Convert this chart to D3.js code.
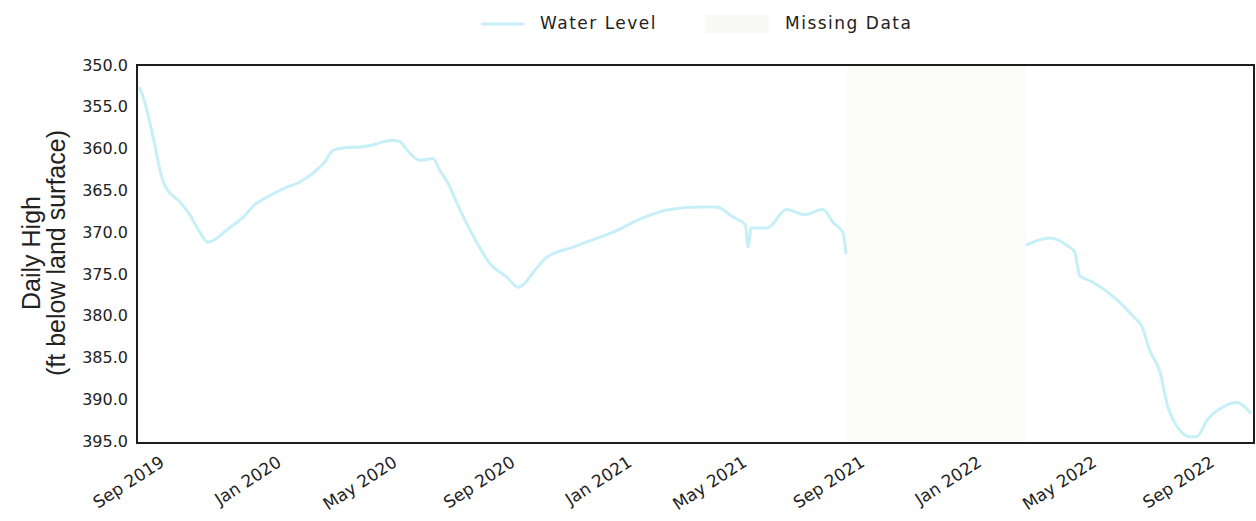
<!DOCTYPE html>
<html>
<head>
<meta charset="utf-8">
<script src="https://cdn.jsdelivr.net/npm/d3@7"></script>
<style>
  html, body { margin: 0; padding: 0; background: #ffffff; }
  svg { display: block; }
</style>
</head>
<body>
<svg id="chart" width="1256" height="521"></svg>
<script>
// ---- data ----
const dates = [
  "2019-08-14","2019-08-19","2019-08-25","2019-08-30","2019-09-04","2019-09-09","2019-09-25","2019-10-05",
  "2019-10-14","2019-10-24","2019-10-31","2019-11-13","2019-11-30","2019-12-12","2019-12-25","2020-01-15",
  "2020-01-28","2020-02-11","2020-02-23","2020-03-03","2020-03-15","2020-03-31","2020-04-12","2020-04-24",
  "2020-05-04","2020-05-12","2020-05-19","2020-06-01","2020-06-15","2020-06-22","2020-06-30","2020-07-13",
  "2020-07-31","2020-08-13","2020-08-31","2020-09-12","2020-09-19","2020-09-27","2020-10-12","2020-11-08",
  "2020-11-29","2020-12-20","2021-01-20","2021-02-17","2021-03-21","2021-04-07","2021-04-24","2021-05-07",
  "2021-05-10","2021-05-13","2021-05-30","2021-06-19","2021-07-08","2021-07-27","2021-08-07","2021-08-17",
  "2021-08-20","2021-11-15","2022-02-25","2022-03-11","2022-03-21","2022-04-08","2022-04-16","2022-04-18",
  "2022-04-21","2022-05-05","2022-05-30","2022-06-16","2022-06-25","2022-07-03","2022-07-14","2022-07-22",
  "2022-08-01","2022-08-14","2022-08-21","2022-09-01","2022-09-18","2022-10-02","2022-10-16"
];
const levels = [
  352.8,354.4,357.2,359.8,362.6,364.4,366.4,367.9,
  369.7,371.2,370.9,369.7,368.2,366.7,365.8,364.6,
  364.0,362.9,361.6,360.2,359.9,359.8,359.6,359.2,
  359.0,359.2,360.2,361.4,361.2,362.6,364.0,367.3,
  371.3,373.7,375.4,376.6,376.1,374.9,373.0,371.8,
  370.9,370.0,368.3,367.3,367.0,367.0,368.2,369.1,
  371.8,369.5,369.5,367.3,367.9,367.3,368.9,370.1,
  372.5,null,371.5,370.9,370.7,371.6,372.4,373.6,
  375.2,376.0,378.1,380.1,381.3,384.1,386.8,390.9,
  393.3,394.5,394.5,392.5,390.9,390.4,391.6
];
const missingStart = "2021-08-21";
const missingEnd = "2022-02-24";
const xDomain = ["2019-08-11", "2022-10-20"];
const xTicks = ["2019-09-01","2020-01-01","2020-05-01","2020-09-01","2021-01-01","2021-05-01","2021-09-01","2022-01-01","2022-05-01","2022-09-01"];
const yTicks = [350,355,360,365,370,375,380,385,390,395];
const legendLabels = ["Water Level", "Missing Data"];
const yTitle = ["Daily High", "(ft below land surface)"];

// ---- layout ----
const parse = d3.timeParse("%Y-%m-%d");
const fmtX = d3.timeFormat("%b %Y");
const pL = 137, pR = 1254, pT = 65, pB = 443;

const svg = d3.select("#chart");
const x = d3.scaleTime().domain(xDomain.map(parse)).range([pL, pR]);
const y = d3.scaleLinear().domain([350, 395]).range([pT, pB - 2]);

const data = dates.map((d, i) => ({ date: parse(d), v: levels[i] }));

// missing data band (very faint in the reference)
svg.append("rect")
  .attr("x", x(parse(missingStart)))
  .attr("y", pT)
  .attr("width", x(parse(missingEnd)) - x(parse(missingStart)))
  .attr("height", pB - pT)
  .attr("fill", "#fbfbf8");

// line
const line = d3.line()
  .defined(d => d.v != null)
  .x(d => x(d.date))
  .y(d => y(d.v))
  .curve(d3.curveMonotoneX);

svg.append("path")
  .datum(data)
  .attr("d", line)
  .attr("fill", "none")
  .attr("stroke", "#c6eff8")
  .attr("stroke-width", 3)
  .attr("stroke-linejoin", "round")
  .attr("stroke-linecap", "round");

// frame
svg.append("rect")
  .attr("x", pL).attr("y", pT)
  .attr("width", pR - pL).attr("height", pB - pT)
  .attr("fill", "none")
  .attr("stroke", "#1e1e1e")
  .attr("stroke-width", 2);

// y axis
const yAxis = svg.append("g")
  .attr("transform", `translate(${pL - 9},0)`)
  .call(d3.axisLeft(y).tickValues(yTicks).tickFormat(d3.format(".1f")).tickSize(0).tickPadding(0));
yAxis.select(".domain").remove();
yAxis.selectAll("text")
  .attr("font-family", "DejaVu Sans")
  .attr("font-size", 16)
  .attr("fill", "#222");

// x axis
const xAxis = svg.append("g")
  .attr("transform", `translate(0,${pB})`)
  .call(d3.axisBottom(x).tickValues(xTicks.map(parse)).tickFormat(fmtX).tickSize(0));
xAxis.select(".domain").remove();
xAxis.selectAll("text")
  .attr("font-family", "DejaVu Sans")
  .attr("font-size", 17)
  .attr("fill", "#222")
  .attr("text-anchor", "end")
  .attr("dy", null)
  .attr("y", 0)
  .attr("transform", "translate(8,22) rotate(-33)");

// y title
const yt = svg.append("text")
  .attr("transform", `translate(0,253) rotate(-90)`)
  .attr("text-anchor", "middle")
  .attr("font-family", "Liberation Sans")
  .attr("font-size", 25)
  .attr("fill", "#222");
yt.append("tspan").attr("x", 0).attr("y", 40).text(yTitle[0]);
yt.append("tspan").attr("x", 0).attr("y", 65).text(yTitle[1]);

// legend
const lg = svg.append("g");
lg.append("line")
  .attr("x1", 481).attr("x2", 524).attr("y1", 24).attr("y2", 24)
  .attr("stroke", "#c6eff8").attr("stroke-width", 3);
lg.append("text")
  .attr("x", 540).attr("y", 29)
  .attr("font-family", "DejaVu Sans").attr("font-size", 17)
  .attr("letter-spacing", 1.5)
  .attr("fill", "#222")
  .text(legendLabels[0]);
lg.append("rect")
  .attr("x", 705).attr("y", 15).attr("width", 64).attr("height", 18)
  .attr("fill", "#f9f9f6");
lg.append("text")
  .attr("x", 785).attr("y", 29)
  .attr("font-family", "DejaVu Sans").attr("font-size", 17)
  .attr("letter-spacing", 1.5)
  .attr("fill", "#222")
  .text(legendLabels[1]);
</script>
</body>
</html>
